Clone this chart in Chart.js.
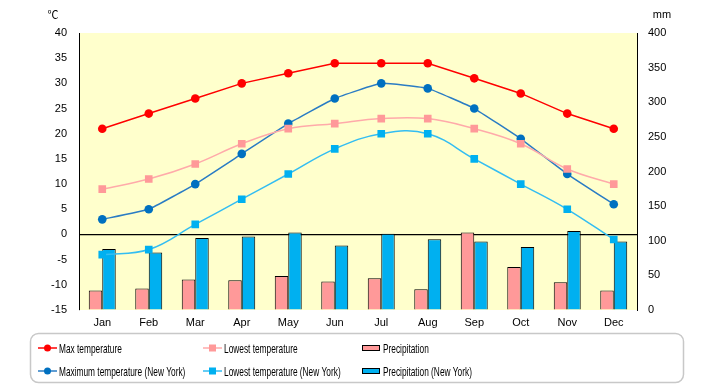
<!DOCTYPE html>
<html>
<head>
<meta charset="utf-8">
<script src="https://cdn.jsdelivr.net/npm/chart.js@4.4.0/dist/chart.umd.min.js"></script>
<style>
  body { margin: 0; background: #fff; }
</style>
</head>
<body>
<canvas id="chart" width="720" height="385"></canvas>
<script>
// Categories and series
const months = ['Jan', 'Feb', 'Mar', 'Apr', 'May', 'Jun', 'Jul', 'Aug', 'Sep', 'Oct', 'Nov', 'Dec'];
const maxTemp = [21, 24, 27, 30, 32, 34, 34, 34, 31, 28, 24, 21];
const lowTemp = [9, 11, 14, 18, 21, 22, 23, 23, 21, 18, 13, 10];
const precip = [28, 31, 44, 43, 49, 41, 46, 30, 112, 62, 40, 28];
const nyMaxTemp = [3, 5, 10, 16, 22, 27, 30, 29, 25, 19, 12, 6];
const nyLowTemp = [-4, -3, 2, 7, 12, 17, 20, 20, 15, 10, 5, -1];
const nyPrecip = [88, 83, 104, 106, 112, 93, 110, 102, 99, 91, 114, 99];

const font = "'Liberation Sans', Arial, sans-serif";

// Yellow plot background
const plotBg = {
    id: 'plotBg',
    beforeDraw(chart) {
        const a = chart.chartArea;
        const ctx = chart.ctx;
        ctx.save();
        ctx.fillStyle = '#ffffcc';
        ctx.fillRect(a.left, a.top, a.right - a.left, a.bottom - a.top);
        ctx.restore();
    }
};

// Unit labels and the boxed legend at the bottom
const extras = {
    id: 'extras',
    afterDraw(chart) {
        const ctx = chart.ctx;
        ctx.save();
        ctx.fillStyle = '#000';
        ctx.font = "11px 'Noto Sans CJK JP', 'DejaVu Sans', sans-serif";
        ctx.textBaseline = 'middle';
        ctx.textAlign = 'center';
        ctx.fillText('℃', 53, 15);
        ctx.font = '11px ' + font;
        ctx.fillText('mm', 662, 15);

        ctx.strokeStyle = '#c8c8c8';
        ctx.lineWidth = 1.5;
        ctx.beginPath();
        ctx.roundRect(30.5, 333.5, 653, 49, 8);
        ctx.stroke();

        const cols = [38, 203, 362];
        const rows = [348, 371];
        ctx.textAlign = 'left';
        ctx.font = '13px ' + font;
        chart.data.datasets.forEach((ds, i) => {
            const x = cols[i % 3];
            const y = rows[Math.floor(i / 3)];
            if (ds.type === 'bar') {
                ctx.fillStyle = ds.backgroundColor;
                ctx.fillRect(x, y - 3, 18, 6);
                ctx.strokeStyle = '#000';
                ctx.lineWidth = 1;
                ctx.strokeRect(x + 0.5, y - 2.5, 17, 5);
            } else {
                ctx.strokeStyle = ds.borderColor;
                ctx.lineWidth = 1.5;
                ctx.beginPath();
                ctx.moveTo(x, y);
                ctx.lineTo(x + 19, y);
                ctx.stroke();
                ctx.fillStyle = ds.pointBackgroundColor;
                if (ds.pointStyle === 'rect') {
                    ctx.fillRect(x + 6, y - 3.5, 7, 7);
                } else {
                    ctx.beginPath();
                    ctx.arc(x + 9.5, y, 3.5, 0, Math.PI * 2);
                    ctx.fill();
                }
            }
            // the original face is a narrow one, squeeze the text to match
            ctx.save();
            ctx.translate(x + 21, y + 1);
            ctx.scale(0.64, 1);
            ctx.fillStyle = '#000';
            ctx.fillText(ds.label, 0, 0);
            ctx.restore();
        });
        ctx.restore();
    }
};

function lineSet(label, data, color, pointColor, style, tension) {
    return {
        type: 'line',
        label: label,
        data: data,
        yAxisID: 'y',
        borderColor: color,
        borderWidth: 1.5,
        pointBackgroundColor: pointColor,
        pointBorderColor: pointColor,
        pointBorderWidth: 0,
        pointStyle: style,
        pointRadius: style === 'rect' ? 5.4 : 4.3,
        tension: tension,
        order: 1
    };
}

function barSet(label, data, color) {
    return {
        type: 'bar',
        label: label,
        data: data,
        yAxisID: 'y2',
        backgroundColor: color,
        borderColor: '#000',
        borderWidth: 1,
        barPercentage: 1,
        categoryPercentage: 0.58,
        order: 2
    };
}

new Chart(document.getElementById('chart'), {
    data: {
        labels: months,
        datasets: [
            lineSet('Max temperature', maxTemp, '#ff0000', '#ff0000', 'circle', 0),
            lineSet('Lowest temperature', lowTemp, '#ffaaaa', '#ff9999', 'rect', 0.4),
            barSet('Precipitation', precip, '#ff9999'),
            lineSet('Maximum temperature (New York)', nyMaxTemp, '#2a7cc4', '#0070c0', 'circle', 0.1),
            lineSet('Lowest temperature (New York)', nyLowTemp, '#33bdf2', '#00b0f0', 'rect', 0.4),
            barSet('Precipitation (New York)', nyPrecip, '#00b0f0')
        ]
    },
    options: {
        responsive: false,
        animation: false,
        layout: { padding: { top: 33, bottom: 50, left: 0, right: 0 } },
        plugins: { legend: { display: false }, tooltip: { enabled: false } },
        scales: {
            x: {
                grid: { display: false, drawTicks: false },
                border: { display: false },
                ticks: { color: '#000', font: { family: font, size: 11 }, padding: 6, maxRotation: 0 },
                afterFit: s => { s.height = 25; }
            },
            y: {
                position: 'left',
                min: -15,
                max: 40,
                ticks: { stepSize: 5, color: '#000', font: { family: font, size: 11 }, padding: 12 },
                grid: {
                    drawTicks: false,
                    color: c => (c.tick && c.tick.value === 0) ? '#000' : 'rgba(0,0,0,0)',
                    lineWidth: 1.2
                },
                border: { display: true, color: '#000', width: 1 },
                afterFit: s => { s.width = 79; }
            },
            y2: {
                position: 'right',
                min: 0,
                max: 400,
                ticks: { stepSize: 50, color: '#000', font: { family: font, size: 11 }, padding: 11 },
                grid: { drawOnChartArea: false, drawTicks: false },
                border: { display: true, color: '#000', width: 1 },
                afterFit: s => { s.width = 83; }
            }
        }
    },
    plugins: [plotBg, extras]
});
</script>
</body>
</html>
